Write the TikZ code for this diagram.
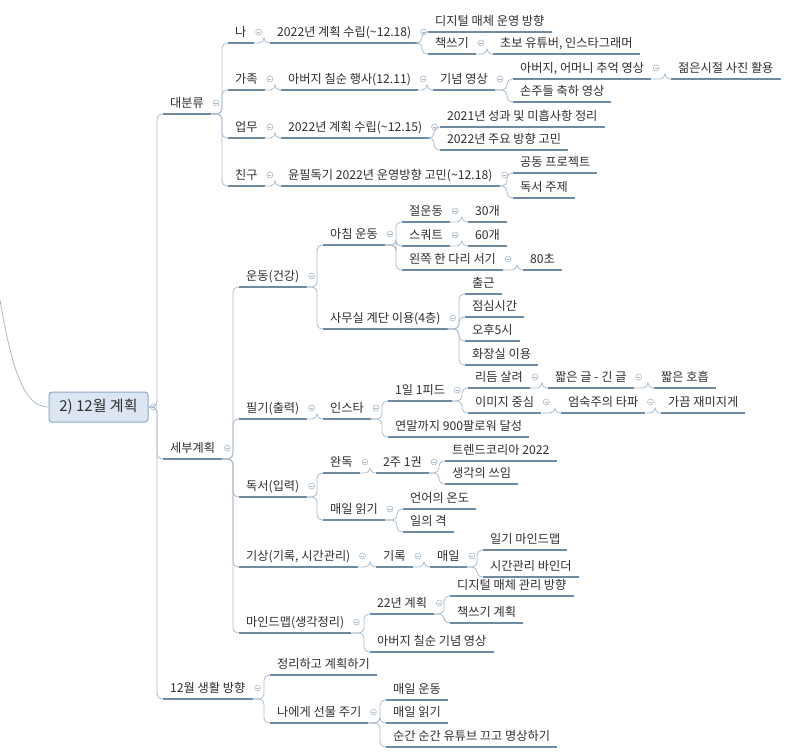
\documentclass[tikz,border=0pt]{standalone}
\usepackage{fontspec}
\setmainfont{Noto Sans CJK KR}

\definecolor{lineblue}{HTML}{6F8AA3}
\definecolor{thinblue}{HTML}{A9BACB}
\definecolor{rootfill}{HTML}{DCE6F2}
\definecolor{rootdraw}{HTML}{8FA8C4}
\definecolor{txt}{HTML}{2E2E2E}

\begin{document}
\begin{tikzpicture}[x=1pt, y=-1pt,
    every node/.style={font=\fontsize{12.2}{14}\selectfont, text=txt},
    topic/.style={anchor=south west, inner xsep=7pt, inner ysep=2.5pt,
                  text height=9.5pt, text depth=4pt,
                  append after command={(\tikzlastnode.south west) edge[uline] (\tikzlastnode.south east)}},
    uline/.style={draw=lineblue, line width=2pt},
    conn/.style={draw=thinblue, line width=0.8pt, rounded corners=5pt},
    fold/.style={circle, draw=thinblue, line width=0.6pt, minimum size=6pt, inner sep=0pt,
                 path picture={\draw[thinblue, line width=0.6pt]
                   ([xshift=-1.6pt]path picture bounding box.center) --
                   ([xshift=1.6pt]path picture bounding box.center);}},
    rootbox/.style={rectangle, rounded corners=3pt, draw=rootdraw, fill=rootfill,
                    line width=1pt, minimum width=99pt, minimum height=30pt,
                    font=\fontsize{15}{18}\selectfont}
]
\useasboundingbox (0,0) rectangle (809,755);

% central topic
\node[rootbox] (plan) at (98.5,407) {2) 12월 계획};
\coordinate (up) at (0,300);

% first level
\node[topic] (cat)  at (163,114) {대분류};
\node[topic] (det)  at (163,459) {세부계획};
\node[topic] (life) at (163,699) {12월 생활 방향};

% 대분류
\node[topic] (me)   at (228,43)  {나};
\node[topic] (fam)  at (228,90)  {가족};
\node[topic] (work) at (228,138) {업무};
\node[topic] (frd)  at (228,186) {친구};
\node[topic] (mePlan)   at (270,43)  {2022년 계획 수립(\textasciitilde12.18)};
\node[topic] (famEvt)   at (281,90)  {아버지 칠순 행사(12.11)};
\node[topic] (workPlan) at (281,138) {2022년 계획 수립(\textasciitilde12.15)};
\node[topic] (frdPlan)  at (281,186) {윤필독기 2022년 운영방향 고민(\textasciitilde12.18)};
\node[topic] (digital) at (428,32)  {디지털 매체 운영 방향};
\node[topic] (book)    at (428,54)  {책쓰기};
\node[topic] (bookYt)  at (493,54)  {초보 유튜버, 인스타그래머};
\node[topic] (memo)    at (433,90)  {기념 영상};
\node[topic] (mem)     at (513,79)  {아버지, 어머니 추억 영상};
\node[topic] (young)   at (671,79)  {젊은시절 사진 활용};
\node[topic] (kids)    at (513,102) {손주들 축하 영상};
\node[topic] (wk21)    at (440,127) {2021년 성과 및 미흡사항 정리};
\node[topic] (wk22)    at (440,150) {2022년 주요 방향 고민};
\node[topic] (joint)   at (513,173) {공동 프로젝트};
\node[topic] (theme)   at (513,198) {독서 주제};

% 세부계획
\node[topic] (ex)   at (239,287) {운동(건강)};
\node[topic] (note) at (239,419) {필기(출력)};
\node[topic] (read) at (239,497) {독서(입력)};
\node[topic] (wake) at (239,567) {기상(기록, 시간관리)};
\node[topic] (mind) at (239,633) {마인드맵(생각정리)};

\node[topic] (morn)   at (323,245) {아침 운동};
\node[topic] (stair)  at (323,329) {사무실 계단 이용(4층)};
\node[topic] (bow)    at (402,222) {절운동};
\node[topic] (squat)  at (402,246) {스쿼트};
\node[topic] (leg)    at (402,270) {왼쪽 한 다리 서기};
\node[topic] (bowN)   at (468,222) {30개};
\node[topic] (squatN) at (468,246) {60개};
\node[topic] (legN)   at (523,270) {80초};
\node[topic] (st1) at (465,294) {출근};
\node[topic] (st2) at (465,317) {점심시간};
\node[topic] (st3) at (465,341) {오후5시};
\node[topic] (st4) at (465,365) {화장실 이용};

\node[topic] (insta)     at (323,419) {인스타};
\node[topic] (feed)      at (388,401) {1일 1피드};
\node[topic] (goal)      at (388,437) {연말까지 900팔로워 달성};
\node[topic] (rhythm)    at (468,388) {리듬 살려};
\node[topic] (image)     at (468,413) {이미지 중심};
\node[topic] (shortlong) at (548,388) {짧은 글 - 긴 글};
\node[topic] (breath)    at (654,388) {짧은 호흡};
\node[topic] (serious)   at (561,413) {엄숙주의 타파};
\node[topic] (fun)       at (661,413) {가끔 재미지게};

\node[topic] (done)    at (323,473) {완독};
\node[topic] (daily)   at (323,520) {매일 읽기};
\node[topic] (biweek)  at (376,473) {2주 1권};
\node[topic] (trend)   at (445,461) {트렌드코리아 2022};
\node[topic] (thought) at (445,484) {생각의 쓰임};
\node[topic] (lang)    at (403,509) {언어의 온도};
\node[topic] (dignity) at (403,532) {일의 격};

\node[topic] (rec)    at (376,567) {기록};
\node[topic] (every)  at (430,567) {매일};
\node[topic] (diary)  at (483,550) {일기 마인드맵};
\node[topic] (binder) at (483,577) {시간관리 바인더};

\node[topic] (y22)   at (370,614) {22년 계획};
\node[topic] (dad)   at (370,652) {아버지 칠순 기념 영상};
\node[topic] (media) at (450,596) {디지털 매체 관리 방향};
\node[topic] (bplan) at (450,623) {책쓰기 계획};

% 12월 생활 방향
\node[topic] (tidy) at (270,675) {정리하고 계획하기};
\node[topic] (gift) at (270,723) {나에게 선물 주기};
\node[topic] (gex)  at (386,700) {매일 운동};
\node[topic] (grd)  at (386,723) {매일 읽기};
\node[topic] (gmed) at (386,747) {순간 순간 유튜브 끄고 명상하기};

% connectors
\draw[conn] (up) .. controls (12,370) and (24,407) .. (plan.west);
\foreach \c in {cat,det,life}
  \draw[conn] (plan.east) -| ([xshift=-6pt]\c.south west) -- (\c.south west);
\foreach \p/\c in {cat/me, cat/fam, cat/work, cat/frd,
    me/mePlan, fam/famEvt, work/workPlan, frd/frdPlan,
    mePlan/digital, mePlan/book, book/bookYt, famEvt/memo, memo/mem, memo/kids,
    mem/young, workPlan/wk21, workPlan/wk22, frdPlan/joint, frdPlan/theme,
    det/ex, det/note, det/read, det/wake, det/mind,
    ex/morn, ex/stair, morn/bow, morn/squat, morn/leg,
    bow/bowN, squat/squatN, leg/legN,
    stair/st1, stair/st2, stair/st3, stair/st4,
    note/insta, insta/feed, insta/goal, feed/rhythm, feed/image,
    rhythm/shortlong, shortlong/breath, image/serious, serious/fun,
    read/done, read/daily, done/biweek, biweek/trend, biweek/thought,
    daily/lang, daily/dignity,
    wake/rec, rec/every, every/diary, every/binder,
    mind/y22, mind/dad, y22/media, y22/bplan,
    life/tidy, life/gift, gift/gex, gift/grd, gift/gmed}
  \draw[conn] (\p.south east) -| ([xshift=-6pt]\c.south west) -- (\c.south west);

% collapse markers
\node[fold] (f-plan) at ([xshift=5pt]plan.east) {};
\foreach \n in {cat,det,life,me,fam,work,frd,mePlan,book,famEvt,memo,mem,
    workPlan,frdPlan,ex,morn,bow,squat,leg,stair,note,insta,feed,rhythm,
    shortlong,image,serious,read,done,biweek,daily,wake,rec,every,mind,y22,gift}
  \node[fold] (f-\n) at ([shift={(5pt,11pt)}]\n.south east) {};
\end{tikzpicture}
\end{document}
